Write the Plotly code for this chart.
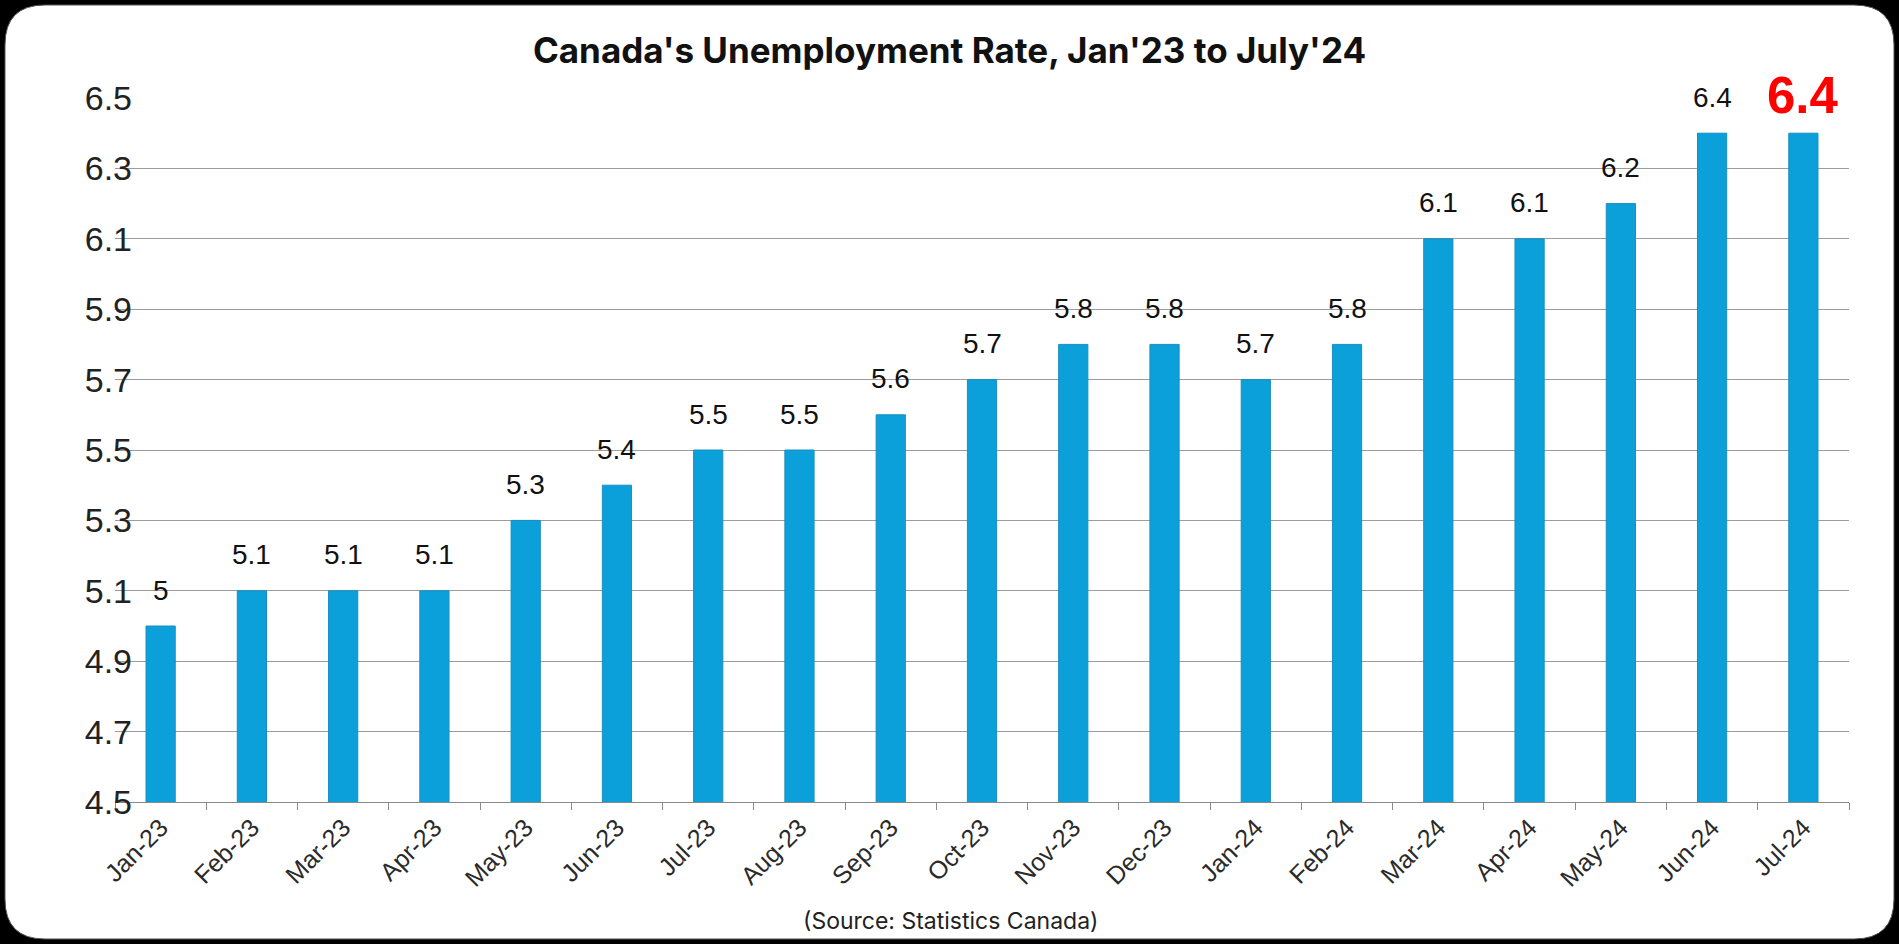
import plotly.graph_objects as go

months = ["Jan-23", "Feb-23", "Mar-23", "Apr-23", "May-23", "Jun-23", "Jul-23", "Aug-23",
          "Sep-23", "Oct-23", "Nov-23", "Dec-23", "Jan-24", "Feb-24", "Mar-24", "Apr-24",
          "May-24", "Jun-24", "Jul-24"]
rates = [5.0, 5.1, 5.1, 5.1, 5.3, 5.4, 5.5, 5.5, 5.6, 5.7, 5.8, 5.8, 5.7, 5.8, 6.1, 6.1, 6.2, 6.4, 6.4]
y_ticks = [4.5, 4.7, 4.9, 5.1, 5.3, 5.5, 5.7, 5.9, 6.1, 6.3, 6.5]

W, H = 1899, 944
ML, MR, MT, MB = 115, 50, 98, 142
PW, PH = W - ML - MR, H - MT - MB


def px_x(px):
    return (px - ML) / PW


def px_y(py):
    return (H - MB - py) / PH


fig = go.Figure()
fig.add_trace(go.Bar(
    x=months, y=rates,
    marker=dict(color="#0CA0DA", line=dict(color="#1A8DC0", width=1)),
    hoverinfo="x+y",
))

annotations = []
for i, (m, v) in enumerate(zip(months, rates)):
    txt = ("%g" % v)
    last = i == len(months) - 1
    annotations.append(dict(
        x=m, y=v, xref="x", yref="y", text=txt, showarrow=False,
        yanchor="middle", yshift=38 if last else 36,
        font=dict(family="Liberation Sans", size=51 if last else 28,
                  color="#FF0000" if last else "#111111",
                  weight="bold" if last else "normal"),
    ))
annotations.append(dict(
    x=px_x(950), y=px_y(921), xref="paper", yref="paper",
    text="(Source: Statistics Canada)", showarrow=False,
    xanchor="center", yanchor="middle",
    font=dict(family="Inter", size=23, color="#222222"),
))

# rounded white card on black background
inset, r = 5, 40
x0, x1 = inset, W - inset
y0, y1 = inset, H - inset
pts = [
    ("M", x0 + r, y0), ("L", x1 - r, y0), ("Q", x1, y0, x1, y0 + r),
    ("L", x1, y1 - r), ("Q", x1, y1, x1 - r, y1),
    ("L", x0 + r, y1), ("Q", x0, y1, x0, y1 - r),
    ("L", x0, y0 + r), ("Q", x0, y0, x0 + r, y0),
]
path = ""
for p in pts:
    cmd = p[0]
    coords = p[1:]
    s = cmd
    for j in range(0, len(coords), 2):
        s += " %.5f,%.5f" % (px_x(coords[j]), px_y(coords[j + 1]))
    path += s + " "
path += "Z"

fig.update_layout(
    width=W, height=H,
    margin=dict(l=ML, r=MR, t=MT, b=MB, pad=0),
    paper_bgcolor="black",
    plot_bgcolor="white",
    showlegend=False,
    bargap=0.68,
    title=dict(text="Canada's Unemployment Rate, Jan'23 to July'24",
               x=0.5, xref="container", xanchor="center",
               y=1 - 51 / H, yref="container", yanchor="middle",
               font=dict(family="Inter", size=35, color="#111111", weight="bold")),
    shapes=[dict(type="path", path=path, xref="paper", yref="paper",
                 fillcolor="white", line=dict(color="#555555", width=1), layer="below")],
    annotations=annotations,
)
fig.update_xaxes(
    type="category", tickangle=-45, tickson="boundaries",
    ticks="outside", ticklen=7, tickcolor="#8a8a8a", tickwidth=1,
    showline=True, linecolor="#8a8a8a", linewidth=1,
    showgrid=False,
    tickfont=dict(family="Liberation Sans", size=25, color="#2a2a2a"),
)
fig.update_yaxes(
    range=[4.5, 6.5], tickvals=y_ticks, ticktext=["%.1f" % t for t in y_ticks],
    showgrid=True, gridcolor="#9c9c9c", gridwidth=1,
    zeroline=False, showline=False, ticks="",
    ticklabelstandoff=-18,
    tickfont=dict(family="Liberation Sans", size=34, color="#222222"),
)

fig.write_html("out.html")
